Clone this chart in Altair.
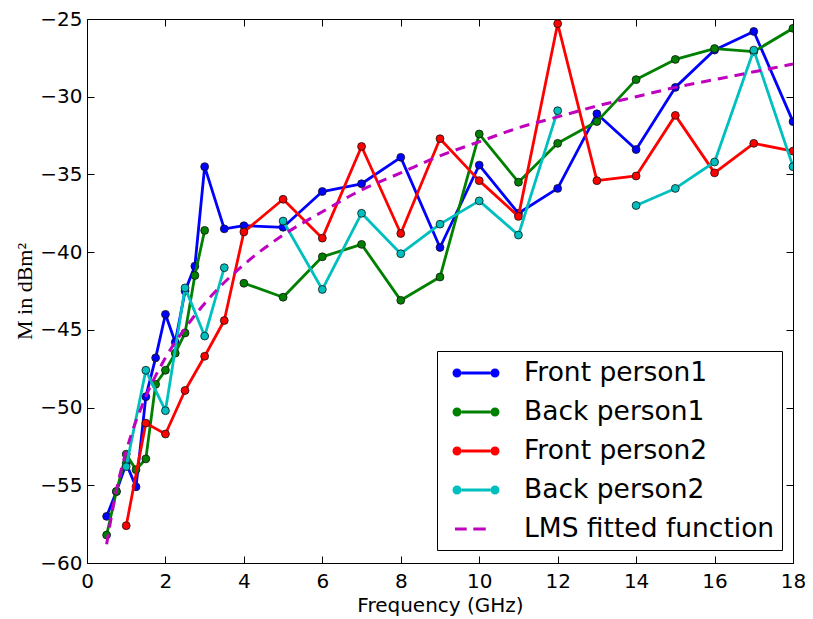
import altair as alt
import pandas as pd

# ---------------- data ----------------
series_names = ["Front person1", "Back person1", "Front person2", "Back person2", "LMS fitted function"]
series_colors = ["#0000ff", "#008000", "#ff0000", "#00bfbf", "#bf00bf"]

freq_fp1 = [0.5, 0.75, 1.0, 1.25, 1.5, 1.75, 2.0, 2.25, 2.5, 2.75, 3.0, 3.5, 4, 5, 6, 7, 8, 9, 10, 11, 12, 13, 14, 15, 16, 17, 18]
val_fp1 = [-57.0, -55.4, -53.6, -55.1, -49.3, -46.8, -44.0, -45.8, -42.5, -40.9, -34.5, -38.5, -38.3,
           -38.4, -36.1, -35.6, -33.9, -39.7, -34.4, -37.5, -35.9, -31.1, -33.4, -29.4, -27.0, -25.8, -31.6]

freq_bp1 = [0.5, 0.75, 1.0, 1.25, 1.5, 1.75, 2.0, 2.25, 2.5, 2.75, 3.0, 3.5, 4, 5, 6, 7, 8, 9, 10, 11, 12, 13, 14, 15, 16, 17, 18]
val_bp1 = [-58.2, -55.4, -53.0, -54.0, -53.3, -48.5, -47.6, -46.5, -45.2, -41.5, -38.6, None, -42.0,
           -42.9, -40.3, -39.5, -43.1, -41.6, -32.4, -35.5, -33.0, -31.6, -28.9, -27.6, -26.9, -27.1, -25.6]

freq_fp2 = [1.0, 1.5, 2.0, 2.5, 3.0, 3.5, 4, 5, 6, 7, 8, 9, 10, 11, 12, 13, 14, 15, 16, 17, 18]
val_fp2 = [-57.6, -51.0, -51.7, -48.9, -46.7, -44.4, -38.7, -36.6, -39.1, -33.2, -38.8, -32.7,
           -35.4, -37.7, -25.3, -35.4, -35.1, -31.2, -34.9, -33.0, -33.5]

freq_bp2 = [1.0, 1.5, 2.0, 2.5, 3.0, 3.5, 4, 5, 6, 7, 8, 9, 10, 11, 12, 13, 14, 15, 16, 17, 18]
val_bp2 = [-53.8, -47.6, -50.2, -42.3, -45.4, -41.0, None, -38.0, -42.4, -37.5, -40.1, -38.2,
           -36.7, -38.9, -30.9, None, -37.0, -35.9, -34.2, -27.0, -34.5]

freq_lms = [0.5, 0.75, 1.0, 1.5, 2.0, 2.5, 3.0, 4, 5, 6, 7, 8, 9, 10, 11, 12, 13, 14, 15, 16, 17, 18]
val_lms = [-58.8, -55.3, -52.8, -49.3, -46.8, -44.9, -43.3, -40.8, -38.9, -37.4, -36.0, -34.9,
           -33.8, -32.9, -32.0, -31.3, -30.6, -30.0, -29.4, -28.9, -28.4, -27.9]

x_ticks = [0, 2, 4, 6, 8, 10, 12, 14, 16, 18]
y_ticks = [-60, -55, -50, -45, -40, -35, -30, -25]


def build(name, freqs, vals):
    rows = []
    seg = 0
    for f, v in zip(freqs, vals):
        if v is None:
            seg += 1
            continue
        rows.append({"series": name, "freq": f, "val": v, "seg": f"{name}-{seg}"})
    return pd.DataFrame(rows)


frames = [
    build(series_names[0], freq_fp1, val_fp1),
    build(series_names[1], freq_bp1, val_bp1),
    build(series_names[2], freq_fp2, val_fp2),
    build(series_names[3], freq_bp2, val_bp2),
]
lms_df = build(series_names[4], freq_lms, val_lms)

# ---------------- legend symbols ----------------
LINE_PATH = ("M -1.567 0 A 0.3 0.3 0 1 1 -0.967 0 A 0.3 0.3 0 1 1 -1.567 0 Z "
             "M -0.967 -0.1 L 0.967 -0.1 L 0.967 0.1 L -0.967 0.1 Z "
             "M 0.967 0 A 0.3 0.3 0 1 1 1.567 0 A 0.3 0.3 0 1 1 0.967 0 Z")
DASH_PATH = ("M -1.4 -0.1 L -0.62 -0.1 L -0.62 0.1 L -1.4 0.1 Z "
             "M -0.18 -0.1 L 0.65 -0.1 L 0.65 0.1 L -0.18 0.1 Z")

shape_expr = f"datum.value === '{series_names[4]}' ? '{DASH_PATH}' : '{LINE_PATH}'"
fill_expr = "'" + series_colors[4] + "'"
for n, c in reversed(list(zip(series_names[:4], series_colors[:4]))):
    fill_expr = f"datum.value === '{n}' ? '{c}' : ({fill_expr})"

legend = alt.Legend(
    title=None,
    orient="none",
    legendX=350,
    legendY=332,
    padding=7,
    strokeColor="black",
    fillColor="white",
    cornerRadius=0,
    symbolSize=900,
    symbolOffset=17,
    labelOffset=33,
    rowPadding=10,
    labelFont="DejaVu Sans",
    labelFontSize=26.5,
    labelColor="black",
    labelLimit=500,
    symbolType={"expr": shape_expr},
    symbolFillColor={"expr": fill_expr},
    symbolStrokeWidth=0,
    symbolOpacity=1,
)

color = alt.Color(
    "series:N",
    scale=alt.Scale(domain=series_names, range=series_colors),
    legend=legend,
)

xscale = alt.Scale(domain=[0, 18], nice=False, zero=False)
yscale = alt.Scale(domain=[-60, -25], nice=False, zero=False)

common_axis = dict(
    offset=-7, tickSize=7, domain=False, grid=False, tickColor="black",
    tickWidth=1, labelColor="black", labelFont="DejaVu Sans", labelFontSize=20,
    labelFlush=False, labelOverlap=False,
)

x_bottom = alt.Axis(values=x_ticks, orient="bottom", labelPadding=8, format="d",
                    title="Frequency (GHz)", titleFont="DejaVu Sans", titleFontSize=20,
                    titleFontWeight="normal", titleColor="black", titlePadding=4, **common_axis)
y_left = alt.Axis(values=y_ticks, orient="left", labelPadding=5, format="d",
                  title="M in dBm²", titleFont="Liberation Serif", titleFontSize=22,
                  titleFontWeight="normal", titleColor="black", titlePadding=3, **common_axis)
x_top = alt.Axis(values=x_ticks, orient="top", labels=False, title=None, **common_axis)
y_right = alt.Axis(values=y_ticks, orient="right", labels=False, title=None, **common_axis)

layers = []
for i, df in enumerate(frames):
    base = alt.Chart(df)
    if i == 0:
        xenc = alt.X("freq:Q", scale=xscale, axis=x_bottom)
        yenc = alt.Y("val:Q", scale=yscale, axis=y_left)
    else:
        xenc = alt.X("freq:Q", scale=xscale, axis=None)
        yenc = alt.Y("val:Q", scale=yscale, axis=None)
    line = base.mark_line(strokeWidth=2.8, strokeJoin="round", clip=True).encode(
        x=xenc, y=yenc, color=color, detail="seg:N", order="freq:Q"
    )
    pts = base.mark_point(filled=True, size=62, stroke="#111111", strokeWidth=0.8,
                          opacity=1, clip=True).encode(
        x=alt.X("freq:Q", scale=xscale, axis=None),
        y=alt.Y("val:Q", scale=yscale, axis=None),
        color=color,
    )
    layers += [line, pts]

lms = alt.Chart(lms_df).mark_line(strokeWidth=3, strokeDash=[10, 7], interpolate="monotone",
                                  clip=True).encode(
    x=alt.X("freq:Q", scale=xscale, axis=x_top),
    y=alt.Y("val:Q", scale=yscale, axis=y_right),
    color=color,
    order="freq:Q",
)
layers.append(lms)

chart = (
    alt.layer(*layers)
    .resolve_axis(x="independent", y="independent")
    .properties(
        width=706,
        height=544,
        autosize=alt.AutoSizeParams(type="none"),
        padding={"left": 79, "top": 11, "right": 12, "bottom": 54},
        background="white",
    )
    .configure_view(stroke="black", strokeWidth=1)
)

chart.save("out.html", embed_options={"renderer": "svg", "actions": False})
